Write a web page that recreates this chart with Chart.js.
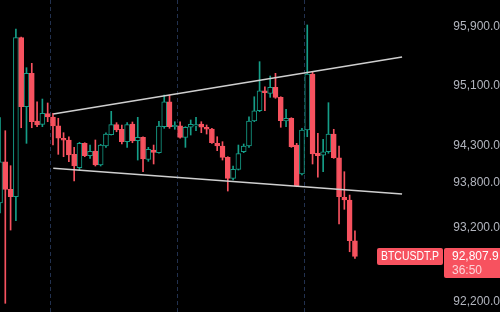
<!DOCTYPE html>
<html><head><meta charset="utf-8">
<script src="https://cdn.jsdelivr.net/npm/chart.js@4"></script>
<style>html,body{margin:0;padding:0;background:#000;overflow:hidden}canvas{display:block}</style>
</head><body>
<canvas id="c" width="500" height="312"></canvas>
<script>
const opens  = [93527,94082,93711,93611,95752,94823,95272,94630,94586,94729,94684,94567,94398,94375,94182,94002,94330,94163,94227,94038,94294,94446,94581,94519,94352,94590,94365,94411,94115,94240,94204,94554,94890,94554,94567,94411,94546,94563,94590,94546,94523,94330,94294,94142,93859,93980,94217,94294,94630,94769,95038,95003,95084,94949,94630,94667,94307,93917,94509,95263,94196,94169,94217,94455,94136,93603,93567,93019];
const highs  = [94675,94500,94029,95869,95760,95348,95407,94890,94926,94873,94734,94667,94473,94419,94276,94344,94338,94307,94375,94317,94473,94761,94608,94577,94608,94617,94680,94419,94276,94307,94626,94980,94980,94621,94621,94554,94644,94680,94621,94577,94532,94419,94352,94150,94025,94307,94321,94688,94957,95429,95092,95236,95272,94957,94788,94675,94330,94532,95923,95294,94465,94384,94877,94519,94294,93948,93634,93154];
const lows   = [93392,92177,93163,93288,94540,94330,94540,94554,94554,94621,94307,94182,94150,94082,93823,93971,94150,94128,94025,94025,94276,94442,94486,94321,94276,94338,94105,93948,94088,94052,94196,94532,94532,94519,94398,94276,94442,94500,94473,94455,94330,94231,94105,93688,93836,93971,94204,94276,94621,94756,94769,94949,94936,94546,94554,94276,93746,93904,94419,94052,93873,93948,94196,94128,93244,93442,92871,92782];
const closes = [94082,93711,93611,95752,94823,95272,94621,94577,94734,94684,94563,94398,94371,94173,94025,94330,94163,94222,94038,94307,94455,94581,94509,94352,94581,94361,94411,94119,94249,94209,94563,94890,94554,94573,94411,94546,94586,94581,94546,94519,94338,94294,94142,93859,93980,94193,94294,94630,94769,95038,95011,95084,94949,94634,94667,94284,93755,94509,95263,94186,94163,94217,94455,94136,93611,93567,93019,92807.9];
const yTicks = [95900, 95100, 94300, 93800, 93200, 92200];
const sessionBreaks = [9.5, 33.5, 57.5];
const trendX = [10.05, 75.9];
const upperTrendY = [94725, 95492];
const lowerTrendY = [93994, 93648];
const symbolLabel = 'BTCUSDT.P';
const lastPriceText = '92,807.9';
const countdownText = '36:50';

const UP = '#159e88', DOWN = '#f7525f';
const candleIdx = opens.map((_, i) => i);
const isUp = i => closes[i] >= opens[i];

const priceLabelPlugin = {
  id: 'priceLabel',
  afterDraw(chart) {
    const ctx = chart.ctx;
    const y = chart.scales.y.getPixelForValue(closes[closes.length - 1]);
    ctx.save();
    ctx.fillStyle = DOWN;
    ctx.beginPath(); ctx.roundRect(377, y - 8.5, 66, 17, 2); ctx.fill();
    ctx.beginPath(); ctx.roundRect(444, y - 8.5, 58, 30, 2); ctx.fill();
    ctx.font = '12px "Liberation Sans", Arial, sans-serif';
    ctx.textBaseline = 'middle';
    ctx.fillStyle = '#ffffff';
    ctx.textAlign = 'center';
    ctx.fillText(symbolLabel, 410, y + 0.5, 58);
    ctx.textAlign = 'left';
    ctx.fillText(lastPriceText, 452, y);
    ctx.fillStyle = '#fcd3d7';
    ctx.fillText(countdownText, 452, y + 14);
    ctx.restore();
  }
};

new Chart(document.getElementById('c'), {
  type: 'bar',
  data: {
    datasets: [
      {
        type: 'bar', order: 1, grouped: false,
        data: candleIdx.map(i => ({ x: i, y: [opens[i], closes[i]] })),
        barThickness: 5, minBarLength: 1, borderWidth: 1, borderSkipped: false,
        backgroundColor: c => isUp(c.dataIndex) ? '#000000' : DOWN,
        borderColor: c => isUp(c.dataIndex) ? UP : DOWN
      },
      {
        type: 'bar', order: 2, grouped: false,
        data: candleIdx.map(i => ({ x: i, y: [lows[i], highs[i]] })),
        barThickness: 1, borderWidth: 0,
        backgroundColor: c => isUp(c.dataIndex) ? UP : DOWN
      },
      {
        type: 'line', order: 0,
        data: trendX.map((x, k) => ({ x, y: upperTrendY[k] })),
        borderColor: '#cfcfcf', borderWidth: 1.5, pointRadius: 0
      },
      {
        type: 'line', order: 0,
        data: trendX.map((x, k) => ({ x, y: lowerTrendY[k] })),
        borderColor: '#cfcfcf', borderWidth: 1.5, pointRadius: 0
      }
    ]
  },
  options: {
    responsive: false, animation: false, devicePixelRatio: 1,
    layout: { padding: 0, autoPadding: false },
    plugins: { legend: { display: false }, tooltip: { enabled: false } },
    scales: {
      x: {
        type: 'linear', min: 0, max: 84, offset: false,
        afterBuildTicks: s => { s.ticks = sessionBreaks.map(v => ({ value: v })); },
        ticks: { display: false },
        grid: { color: '#22314f', lineWidth: 1, drawTicks: false, offset: false },
        border: { display: false, dash: [4, 3] }
      },
      y: {
        type: 'linear', position: 'right', min: 92060, max: 96259,
        afterBuildTicks: s => { s.ticks = yTicks.map(v => ({ value: v })); },
        afterFit: s => { s.width = 55; s.paddingTop = 0; s.paddingBottom = 0; },
        grid: { display: false, drawTicks: false },
        border: { display: false },
        ticks: {
          color: '#b2b5be', padding: 7, crossAlign: 'far',
          font: { family: '"Liberation Sans", Arial, sans-serif', size: 12 },
          callback: v => v.toLocaleString('en-US', { minimumFractionDigits: 1, maximumFractionDigits: 1 })
        }
      }
    }
  },
  plugins: [priceLabelPlugin]
});
</script>
</body></html>
